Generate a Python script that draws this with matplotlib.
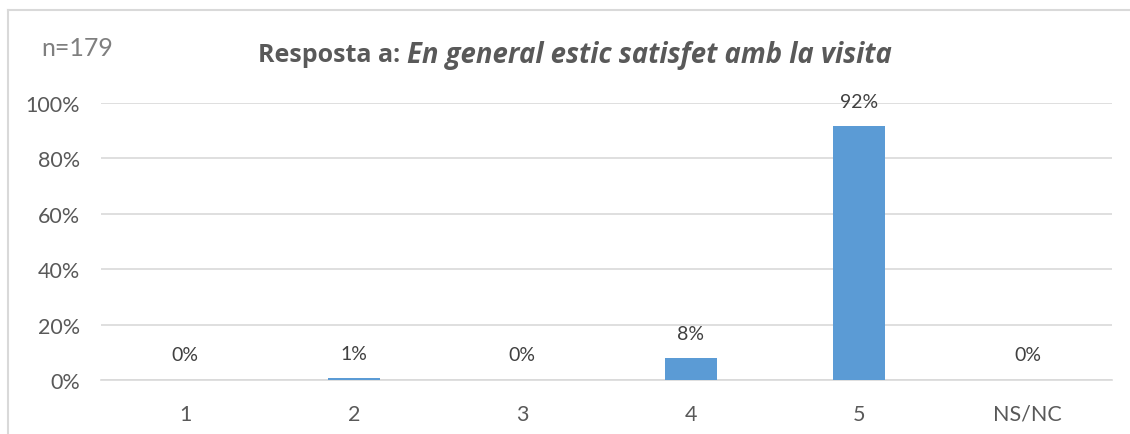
import numpy as np
import matplotlib
matplotlib.use('Agg')
import matplotlib.pyplot as plt
from matplotlib.lines import Line2D

plt.rcParams.update({'font.family': ['Lato', 'DejaVu Sans']})

categories = ['1', '2', '3', '4', '5', 'NS/NC']
values = [0.0, 0.56, 0.0, 7.82, 91.62, 0.0]
labels = ['0%', '1%', '0%', '8%', '92%', '0%']
yticks = [0, 20, 40, 60, 80, 100]

txt = '#595959'
grid = '#d9d9d9'

fig = plt.figure(figsize=(11.3, 4.35), dpi=100)
ax = fig.add_axes([101/1130, 1-381/435, (1112-101)/1130, (381-104)/435])

x = np.arange(len(categories))
ax.bar(x, values, width=0.31, color='#5b9bd5', zorder=3)
for xi, v, lab in zip(x, values, labels):
    ax.annotate(lab, (xi, v), xytext=(0, 12), textcoords='offset points',
                ha='center', va='bottom', fontsize=14, color='#404040')

ax.set_xlim(-0.5, len(categories) - 0.5)
ax.set_ylim(0, 100)
ax.set_yticks(yticks)
ax.set_yticklabels([f'{t}%' for t in yticks])
ax.set_xticks(x)
ax.set_xticklabels(categories)
ax.tick_params(axis='both', length=0, labelsize=15.5, colors=txt)
ax.tick_params(axis='y', pad=15)
ax.tick_params(axis='x', pad=17)
ax.grid(axis='y', color=grid, lw=1.2, zorder=0)
for s in ['top', 'right', 'left']:
    ax.spines[s].set_visible(False)
ax.spines['bottom'].set_color(grid)
ax.spines['bottom'].set_linewidth(1.2)

# chart border (Excel style)
fig.add_artist(Line2D([8/1130, 8/1130], [0, 1-11/435], color='#d9d9d9', lw=1.5))
fig.add_artist(Line2D([8/1130, 1], [1-11/435, 1-11/435], color='#d9d9d9', lw=1.5))

fig.text(41/1130, 1-48/435, 'n=179', fontsize=18, color='#7f7f7f', va='center', ha='left')

# title with bold + bold italic parts, centred
fig.canvas.draw()
r = fig.canvas.get_renderer()
tfont = ['Open Sans', 'DejaVu Sans']
t1 = fig.text(0, 1-55/435, 'Resposta a: ', fontsize=18, fontweight='bold', color=txt,
              va='center', family=tfont)
t2 = fig.text(0, 1-55/435, 'En general estic satisfet amb la visita', fontsize=19.8,
              fontweight='bold', style='italic', color=txt, va='center', family=tfont)
w1 = t1.get_window_extent(r).width
w2 = t2.get_window_extent(r).width
x0 = 575 - (w1 + w2) / 2
t1.set_x(x0 / 1130)
t2.set_x((x0 + w1) / 1130)

fig.savefig('out.png', dpi=100)
